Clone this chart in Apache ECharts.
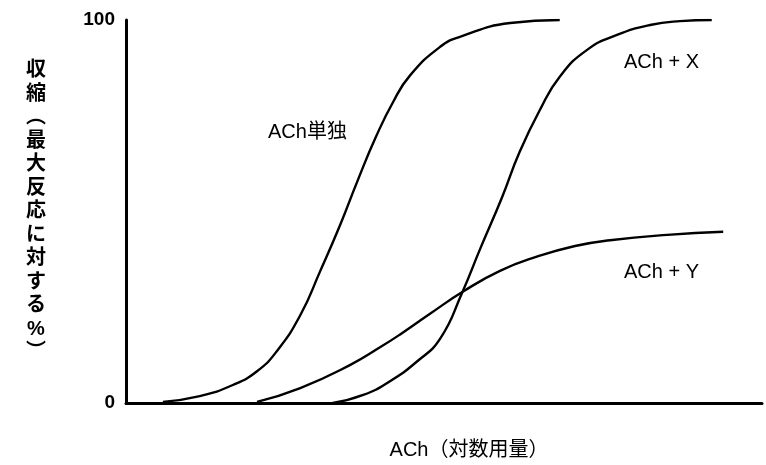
<!DOCTYPE html>
<html>
<head>
<meta charset="utf-8">
<script src="https://cdn.jsdelivr.net/npm/echarts@6/dist/echarts.min.js"></script>
<style>
  html, body { margin: 0; padding: 0; background: #fff; }
  #chart-panel { width: 766px; height: 465px; }
</style>
</head>
<body>
<div id="chart-panel"></div>
<script>
// 用量-反応曲線（対数用量 vs 最大反応に対する%）
// 値は図から読み取った推定値

var yTicks = [0, 100];

// ACh単独
var achAlone = [
    [0.58, 0.3], [1.16, 1.8], [1.68, 4.7], [2.06, 8.3], [2.37, 13.5],
    [2.74, 22.9], [3.05, 34.3], [3.36, 46.2], [3.65, 58.4], [3.93, 69.5],
    [4.20, 78.6], [4.47, 85.6], [4.94, 93.0], [5.25, 95.6], [6.04, 99.2],
    [6.82, 100]
];

// ACh + X
var achX = [
    [3.25, 0], [3.73, 2.1], [4.15, 5.7], [4.58, 10.9], [4.94, 16.8],
    [5.28, 28.6], [5.57, 40.3], [5.91, 53.6], [6.19, 65.6], [6.51, 76.6],
    [6.82, 85.2], [7.25, 92.2], [7.72, 96.1], [8.24, 98.7], [8.71, 99.7],
    [9.21, 100]
];

// ACh + Y
var achY = [
    [2.06, 0.3], [2.74, 3.9], [3.52, 9.9], [4.00, 14.6], [4.31, 17.9],
    [4.78, 23.3], [5.30, 29.1], [5.88, 34.5], [6.46, 38.2], [7.06, 41.0],
    [7.61, 42.5], [8.51, 43.9], [9.39, 44.7]
];

var curveLabels = [
    { text: 'ACh単独', left: 268, top: 122 },
    { text: 'ACh + X', left: 624, top: 52 },
    { text: 'ACh + Y', left: 624, top: 262 }
];

var fontFamily = '"Liberation Sans", "Noto Sans CJK JP", sans-serif';

function makeSeries(name, data) {
    return {
        name: name,
        type: 'line',
        smooth: 0.5,
        symbol: 'none',
        silent: true,
        lineStyle: {
            color: '#000',
            width: 2.4
        },
        data: data
    };
}

var chartOption = {
    backgroundColor: '#fff',
    animation: false,
    grid: {
        left: 126,
        right: 4,
        top: 20,
        bottom: 60
    },
    xAxis: {
        type: 'value',
        min: 0,
        max: 10,
        name: 'ACh（対数用量）',
        nameLocation: 'middle',
        nameGap: 37,
        nameTextStyle: {
            color: '#000',
            fontSize: 20,
            fontFamily: fontFamily,
            padding: [0, 0, 0, 50]
        },
        axisLine: {
            lineStyle: { color: '#000', width: 3 }
        },
        axisTick: { show: false },
        axisLabel: { show: false },
        splitLine: { show: false }
    },
    yAxis: {
        type: 'value',
        min: yTicks[0],
        max: yTicks[1],
        interval: 100,
        name: '収\n縮\n︵\n最\n大\n反\n応\nに\n対\nす\nる\n%\n︶',
        nameLocation: 'middle',
        nameRotate: 0,
        nameGap: 90,
        nameTextStyle: {
            color: '#000',
            fontSize: 20,
            fontWeight: 'bold',
            lineHeight: 23.5,
            fontFamily: fontFamily,
            align: 'center',
            padding: [0, 0, 54, 0]
        },
        axisLine: {
            show: true,
            lineStyle: { color: '#000', width: 3 }
        },
        axisTick: { show: false },
        axisLabel: {
            color: '#000',
            fontSize: 19,
            fontWeight: 'bold',
            fontFamily: fontFamily,
            margin: 11
        },
        splitLine: { show: false }
    },
    graphic: curveLabels.map(function (l) {
        return {
            type: 'text',
            left: l.left,
            top: l.top,
            style: {
                text: l.text,
                fill: '#000',
                font: '20px ' + fontFamily
            }
        };
    }),
    series: [
        makeSeries('ACh単独', achAlone),
        makeSeries('ACh + X', achX),
        makeSeries('ACh + Y', achY)
    ]
};

var myChart = echarts.init(document.getElementById('chart-panel'));
myChart.setOption(chartOption);
</script>
</body>
</html>
